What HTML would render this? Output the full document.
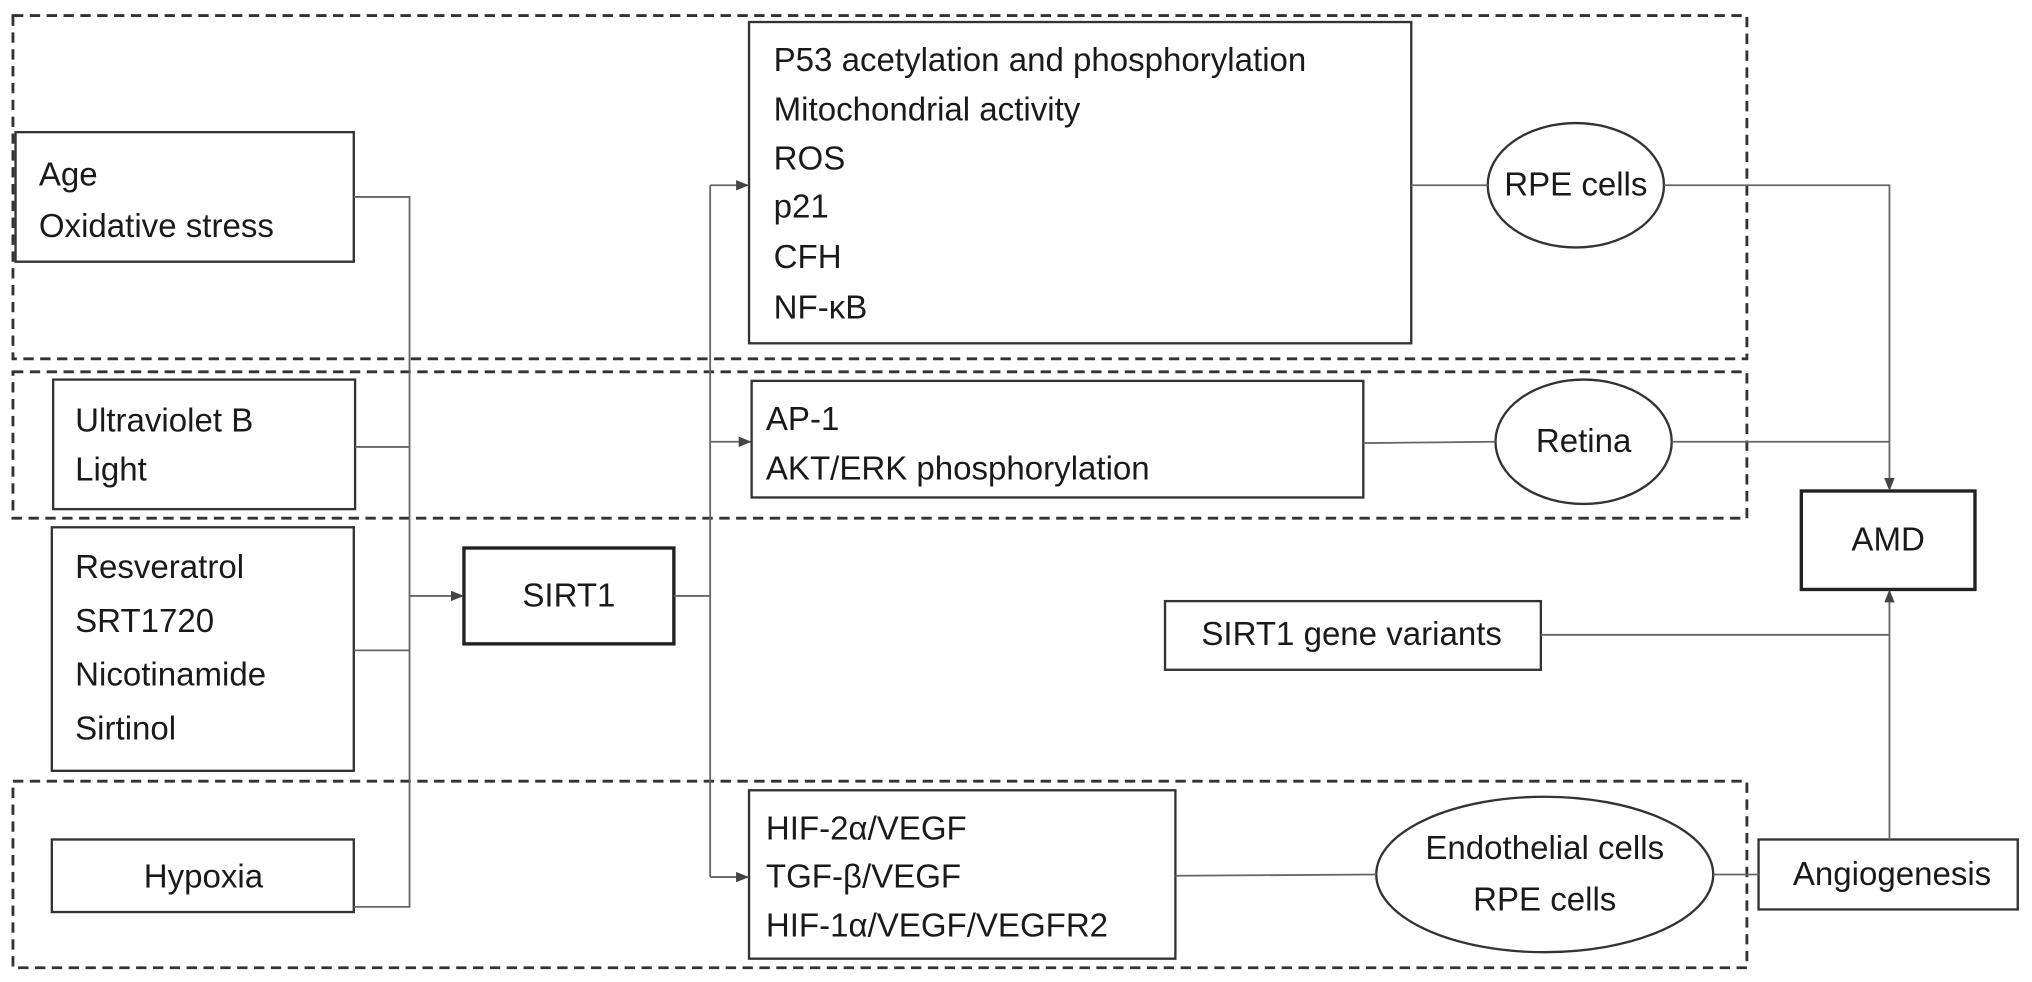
<!DOCTYPE html>
<html><head><meta charset="utf-8"><style>
html,body{margin:0;padding:0;background:#fff;}
svg{display:block}
text{font-family:"Liberation Sans",Arial,sans-serif;font-size:25.5px;fill:#1a1a1a}
</style></head><body>
<svg width="2032" height="982" viewBox="0 0 1568 758" preserveAspectRatio="none">
<defs><marker id="a" markerWidth="10" markerHeight="8" refX="9" refY="4" orient="auto" markerUnits="userSpaceOnUse"><path d="M0,0 L10,4 L0,8 Z" fill="#444"/></marker></defs>
<g fill="none" stroke="#333" stroke-width="2.2" stroke-dasharray="8,5">
<rect x="10" y="12" width="1338" height="265"/>
<rect x="10" y="287" width="1338" height="113"/>
<rect x="10" y="603" width="1338" height="144"/>
</g>
<g fill="#fff" stroke="#333" stroke-width="1.8">
<rect x="12" y="102" width="261" height="100"/>
<rect x="41" y="293" width="233" height="100"/>
<rect x="40" y="407" width="233" height="188"/>
<rect x="40" y="648" width="233" height="56"/>
<rect x="578" y="17" width="511" height="248"/>
<rect x="580" y="294" width="472" height="90"/>
<rect x="578" y="610" width="329" height="130"/>
<rect x="899" y="464" width="290" height="53"/>
<rect x="1357" y="648" width="200" height="54"/>
<ellipse cx="1216" cy="143" rx="68" ry="48"/>
<ellipse cx="1222" cy="341" rx="68" ry="48"/>
<ellipse cx="1192" cy="675" rx="130" ry="60"/>
</g>
<g fill="#fff" stroke="#222" stroke-width="2.6">
<rect x="358" y="423" width="162" height="74"/>
<rect x="1390" y="379" width="134" height="76"/>
</g>
<g fill="none" stroke="#666" stroke-width="1.4">
<path d="M273,152 H316 V700 H273"/>
<path d="M274,345 H316 M273,502 H316"/>
<path d="M316,460 H357" marker-end="url(#a)"/>
<path d="M520,460 H548 M548,143 V677"/>
<path d="M548,143 H577" marker-end="url(#a)"/>
<path d="M548,341 H579" marker-end="url(#a)"/>
<path d="M548,677 H577" marker-end="url(#a)"/>
<path d="M1089,143 H1148 M1052,342 L1154,341 M907,676 L1062,675 M1322,675 H1357"/>
<path d="M1284,143 H1458 V378" marker-end="url(#a)"/>
<path d="M1290,341 H1458 M1189,490 H1458"/>
<path d="M1458,648 V456" marker-end="url(#a)"/>
</g>
<text x="30" y="143">Age</text>
<text x="30" y="183">Oxidative stress</text>
<text x="58" y="333">Ultraviolet B</text>
<text x="58" y="371">Light</text>
<text x="58" y="446">Resveratrol</text>
<text x="58" y="488">SRT1720</text>
<text x="58" y="529">Nicotinamide</text>
<text x="58" y="571">Sirtinol</text>
<text x="157" y="685" text-anchor="middle">Hypoxia</text>
<text x="439" y="468" text-anchor="middle">SIRT1</text>
<text x="597" y="55">P53 acetylation and phosphorylation</text>
<text x="597" y="93">Mitochondrial activity</text>
<text x="597" y="131">ROS</text>
<text x="597" y="168">p21</text>
<text x="597" y="207">CFH</text>
<text x="597" y="246">NF-κB</text>
<text x="1216" y="151" text-anchor="middle">RPE cells</text>
<text x="591" y="332">AP-1</text>
<text x="591" y="370">AKT/ERK phosphorylation</text>
<text x="1222" y="349" text-anchor="middle">Retina</text>
<text x="1457" y="425" text-anchor="middle">AMD</text>
<text x="1043" y="498" text-anchor="middle">SIRT1 gene variants</text>
<text x="591" y="648">HIF-2α/VEGF</text>
<text x="591" y="685">TGF-β/VEGF</text>
<text x="591" y="723">HIF-1α/VEGF/VEGFR2</text>
<text x="1192" y="663" text-anchor="middle">Endothelial cells</text>
<text x="1192" y="703" text-anchor="middle">RPE cells</text>
<text x="1460" y="683" text-anchor="middle">Angiogenesis</text>
</svg>
</body></html>
